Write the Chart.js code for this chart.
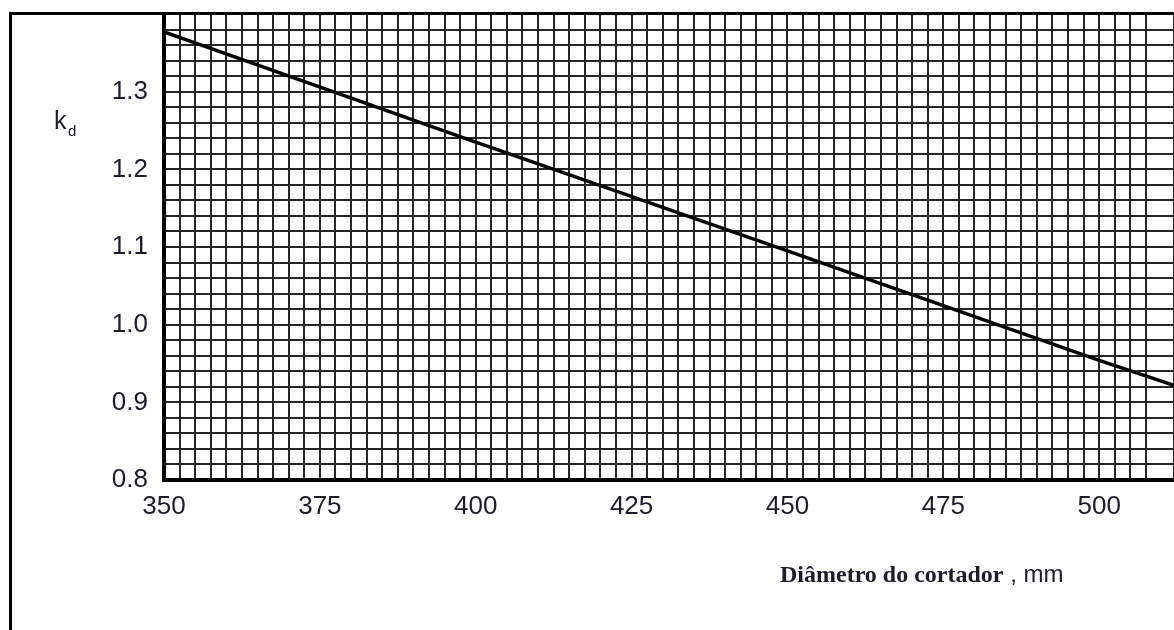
<!DOCTYPE html>
<html>
<head>
<meta charset="utf-8">
<script src="https://cdn.jsdelivr.net/npm/chart.js@4"></script>
<style>
  html, body { margin: 0; padding: 0; background: #fff; }
  #wrap { width: 1174px; height: 630px; }
</style>
</head>
<body>
<div id="wrap"><canvas id="kdChart" width="1174" height="630"></canvas></div>
<script>
// diametro do cortador (mm) e fator kd
const diametros = [350, 400, 450, 500, 512];
const kdValores = [1.377, 1.235, 1.095, 0.954, 0.922];
const xLabelTicks = [350, 375, 400, 425, 450, 475, 500];
const yLabelTicks = [0.8, 0.9, 1.0, 1.1, 1.2, 1.3];

const ctx = document.getElementById('kdChart').getContext('2d');

// moldura externa + rotulos com fontes misturadas
const frameAndTitles = {
  id: 'frameAndTitles',
  afterDraw(chart) {
    const c = chart.ctx;
    c.save();
    c.strokeStyle = '#000';
    c.lineWidth = 3;
    c.beginPath();
    c.moveTo(10.5, 630);
    c.lineTo(10.5, 13.5);
    c.lineTo(1174, 13.5);
    c.stroke();

    c.fillStyle = '#1c1c2a';
    c.textBaseline = 'alphabetic';
    c.font = '25px "Liberation Sans", Arial, sans-serif';
    c.fillText('k', 54, 129);
    c.font = '15px "Liberation Sans", Arial, sans-serif';
    c.fillText('d', 68, 136);

    c.font = 'bold 24px "Liberation Serif", "Times New Roman", serif';
    const t1 = 'Diâmetro do cortador';
    c.fillText(t1, 780, 582);
    const w1 = c.measureText(t1).width;
    c.font = '24px "Liberation Sans", Arial, sans-serif';
    c.fillText(' , mm', 780 + w1, 582);
    c.restore();
  }
};

new Chart(ctx, {
  type: 'scatter',
  data: {
    datasets: [{
      data: diametros.map((d, i) => ({ x: d, y: kdValores[i] })),
      showLine: true,
      borderColor: '#000',
      borderWidth: 3.5,
      pointRadius: 0,
      fill: false
    }]
  },
  options: {
    responsive: false,
    animation: false,
    layout: { padding: { top: 14, right: 0, left: 0, bottom: 0 } },
    plugins: { legend: { display: false }, tooltip: { enabled: false } },
    scales: {
      x: {
        type: 'linear',
        min: 350,
        max: 512,
        afterFit(scale) {
          scale.height = 150;
          scale.paddingLeft = 0;
          scale.paddingRight = 0;
        },
        grid: { color: '#262626', lineWidth: 2, drawTicks: false },
        border: { color: '#000', width: 4 },
        ticks: {
          stepSize: 2.5,
          autoSkip: false,
          maxRotation: 0,
          maxTicksLimit: 200,
          padding: 11,
          color: '#1c1c2a',
          font: { family: '"Liberation Sans", Arial, sans-serif', size: 26 },
          callback: (v) => xLabelTicks.includes(Math.round(v * 10) / 10) ? String(v) : ''
        }
      },
      y: {
        type: 'linear',
        min: 0.8,
        max: 1.4,
        afterFit(scale) {
          scale.width = 164;
          scale.paddingTop = 0;
          scale.paddingBottom = 0;
        },
        grid: { color: '#262626', lineWidth: 2, drawTicks: false },
        border: { color: '#000', width: 4 },
        ticks: {
          stepSize: 0.02,
          autoSkip: false,
          maxTicksLimit: 200,
          padding: 16,
          color: '#1c1c2a',
          font: { family: '"Liberation Sans", Arial, sans-serif', size: 26 },
          callback: (v) => {
            const r = Math.round(v * 100) / 100;
            return yLabelTicks.some(t => Math.abs(t - r) < 1e-6) ? r.toFixed(1) : '';
          }
        }
      }
    }
  },
  plugins: [frameAndTitles]
});
</script>
</body>
</html>
